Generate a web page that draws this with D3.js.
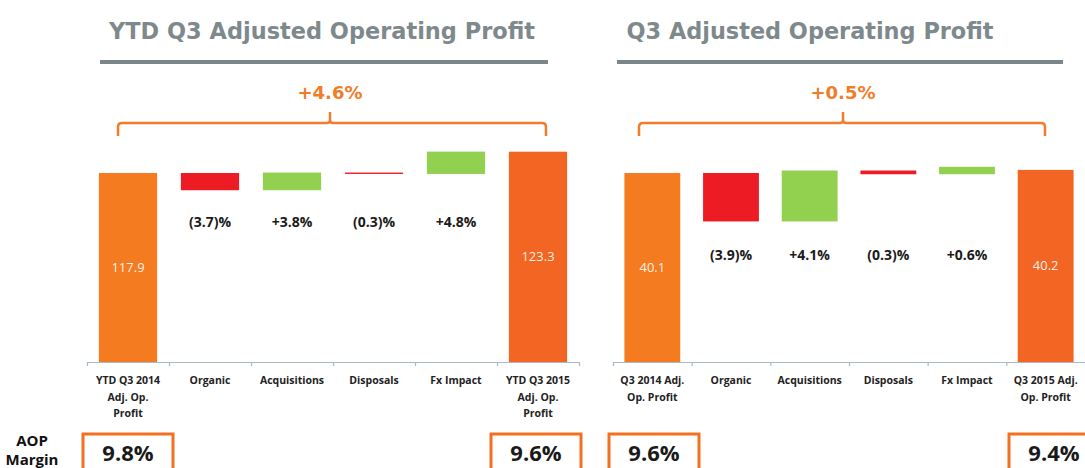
<!DOCTYPE html>
<meta charset="utf-8">
<script src="https://d3js.org/d3.v7.min.js"></script>
<style>
  body { margin: 0; background: #fff; }
  text { font-family: "Open Sans", sans-serif; }
</style>

<svg id="chart" width="1085" height="468"></svg>

<script>
// ---- data ----
var ytdCategories = [["YTD Q3 2014", "Adj. Op.", "Profit"], ["Organic"], ["Acquisitions"], ["Disposals"], ["Fx Impact"], ["YTD Q3 2015", "Adj. Op.", "Profit"]];
var ytdStart = 117.9, ytdEnd = 123.3;
var ytdChangePct = [-3.7, 3.8, -0.3, 4.8];
var ytdTotalPct = 4.6;
var ytdMargin = [9.8, 9.6];

var q3Categories = [["Q3 2014 Adj.", "Op. Profit"], ["Organic"], ["Acquisitions"], ["Disposals"], ["Fx Impact"], ["Q3 2015 Adj.", "Op. Profit"]];
var q3Start = 40.1, q3End = 40.2;
var q3ChangePct = [-3.9, 4.1, -0.3, 0.6];
var q3TotalPct = 0.5;
var q3Margin = [9.6, 9.4];

var colors = { start: "#f47b20", end: "#f26522", up: "#92d050", down: "#ed1c24" };
var orange = "#f07d2a", gray = "#7e898b";

var svg = d3.select("#chart");

var panels = [
  { title: "YTD Q3 Adjusted Operating Profit", titleX: 322, titleW: 426, lineX: [100, 548],
    cats: ytdCategories, start: ytdStart, end: ytdEnd, pct: ytdChangePct, total: ytdTotalPct, margin: ytdMargin,
    xRange: [87, 579], yDomain: [70, 125], yRange: [362, 145], bracket: [118, 546, 330], pctLabelY: 227, boxX: [83, 491] },
  { title: "Q3 Adjusted Operating Profit", titleX: 810, titleW: 367, lineX: [617, 1063],
    cats: q3Categories, start: q3Start, end: q3End, pct: q3ChangePct, total: q3TotalPct, margin: q3Margin,
    xRange: [613, 1085], yDomain: [34, 40.5], yRange: [362, 160.6], bracket: [639, 1045, 843], pctLabelY: 260, boxX: [609, 1009] }
];

var f1 = d3.format(".1f");
function pctText(v) { return v < 0 ? "(" + f1(-v) + ")%" : "+" + f1(v) + "%"; }

function bracketPath(x0, x1, cx, y) {
  return "M" + x0 + "," + (y + 13) + " V" + (y + 4) + " Q" + x0 + "," + y + " " + (x0 + 4) + "," + y +
    " H" + (cx - 3) + " Q" + cx + "," + y + " " + cx + "," + (y - 3) + " V" + (y - 11) +
    " M" + cx + "," + (y - 3) + " Q" + cx + "," + y + " " + (cx + 3) + "," + y +
    " H" + (x1 - 4) + " Q" + x1 + "," + y + " " + x1 + "," + (y + 4) + " V" + (y + 13);
}

panels.forEach(function(p) {
  var g = svg.append("g");
  var names = p.cats.map(function(c) { return c.join(" "); });

  var x = d3.scaleBand().domain(names).range(p.xRange).padding(0);
  var y = d3.scaleLinear().domain(p.yDomain).range(p.yRange);
  var bw = x.bandwidth();

  // waterfall rows
  var rows = [{ cat: names[0], v0: p.yDomain[0], v1: p.start, type: "start", value: p.start }];
  var run = p.start;
  p.pct.forEach(function(v, i) {
    var d = p.start * v / 100;
    rows.push({ cat: names[i + 1], v0: run, v1: run + d, type: v < 0 ? "down" : "up", pct: v });
    run += d;
  });
  rows.push({ cat: names[5], v0: p.yDomain[0], v1: p.end, type: "end", value: p.end });

  // title + rule
  g.append("text")
    .attr("x", p.titleX).attr("y", 39)
    .attr("text-anchor", "middle")
    .attr("textLength", p.titleW).attr("lengthAdjust", "spacingAndGlyphs")
    .style("font-family", "'DejaVu Sans', sans-serif")
    .style("font-weight", "bold").style("font-size", "23px")
    .style("fill", gray)
    .text(p.title);
  g.append("line")
    .attr("x1", p.lineX[0]).attr("x2", p.lineX[1])
    .attr("y1", 62).attr("y2", 62)
    .attr("stroke", "#7b868a").attr("stroke-width", 4);

  // total change + bracket
  g.append("text")
    .attr("x", p.bracket[2]).attr("y", 99)
    .attr("text-anchor", "middle")
    .style("font-family", "'DejaVu Sans', sans-serif")
    .style("font-weight", "bold").style("font-size", "18px")
    .style("fill", orange)
    .text(pctText(p.total));
  g.append("path")
    .attr("d", bracketPath(p.bracket[0], p.bracket[1], p.bracket[2], 123))
    .attr("fill", "none").attr("stroke", orange).attr("stroke-width", 2.5);

  // bars
  g.selectAll("rect.bar").data(rows).enter().append("rect")
    .attr("class", "bar")
    .attr("x", function(d) { return x(d.cat) + bw * 0.145; })
    .attr("width", bw * 0.71)
    .attr("y", function(d) { return y(Math.max(d.v0, d.v1)); })
    .attr("height", function(d) { return Math.abs(y(d.v0) - y(d.v1)); })
    .attr("fill", function(d) { return colors[d.type]; });

  // values inside start/end bars
  g.selectAll("text.val").data(rows.filter(function(d) { return d.value != null; })).enter().append("text")
    .attr("class", "val")
    .attr("x", function(d) { return x(d.cat) + bw / 2; })
    .attr("y", function(d) { return (y(d.v0) + y(d.v1)) / 2; })
    .attr("dy", "0.35em")
    .attr("text-anchor", "middle")
    .style("font-size", "13px")
    .style("fill", "#fff").style("fill-opacity", 0.92)
    .text(function(d) { return f1(d.value); });

  // step percentage labels
  g.selectAll("text.pct").data(rows.filter(function(d) { return d.pct != null; })).enter().append("text")
    .attr("class", "pct")
    .attr("x", function(d) { return x(d.cat) + bw / 2; })
    .attr("y", p.pctLabelY)
    .attr("text-anchor", "middle")
    .style("font-weight", "bold").style("font-size", "14px")
    .style("fill", "#1a1a1a")
    .text(function(d) { return pctText(d.pct); });

  // axis with ticks at band edges
  var edge = d3.scaleLinear().domain([0, names.length]).range(p.xRange);
  var axis = g.append("g")
    .attr("transform", "translate(0," + p.yRange[0] + ")")
    .call(d3.axisBottom(edge).ticks(names.length).tickSize(4).tickSizeOuter(0).tickFormat(""));
  axis.selectAll("path, line").attr("stroke", "#a9b9cc").attr("stroke-width", 1.2);

  // category labels
  var lab = g.selectAll("text.cat").data(p.cats).enter().append("text")
    .attr("class", "cat")
    .attr("text-anchor", "middle")
    .attr("y", 384)
    .style("font-weight", "bold").style("font-size", "10.5px")
    .style("fill", "#222");
  lab.each(function(lines, i) {
    var t = d3.select(this);
    lines.forEach(function(s, j) {
      t.append("tspan")
        .attr("x", x(names[i]) + bw / 2)
        .attr("dy", j === 0 ? 0 : 16.5)
        .text(s);
    });
  });

  // margin boxes
  p.margin.forEach(function(m, i) {
    var bx = p.boxX[i];
    g.append("rect")
      .attr("x", bx).attr("y", 434)
      .attr("width", 90).attr("height", 44)
      .attr("fill", "#fff").attr("stroke", "#f37021").attr("stroke-width", 3);
    g.append("text")
      .attr("x", bx + 45).attr("y", 461)
      .attr("text-anchor", "middle")
      .style("font-weight", "bold").style("font-size", "22px")
      .style("fill", "#1a1a1a")
      .text(f1(m) + "%");
  });
});

// row label
svg.append("text")
  .attr("x", 32).attr("y", 446)
  .attr("text-anchor", "middle")
  .style("font-weight", "bold").style("font-size", "15px")
  .style("fill", "#111")
  .text("AOP");
svg.append("text")
  .attr("x", 32).attr("y", 465)
  .attr("text-anchor", "middle")
  .style("font-weight", "bold").style("font-size", "15px")
  .style("fill", "#111")
  .text("Margin");
</script>
